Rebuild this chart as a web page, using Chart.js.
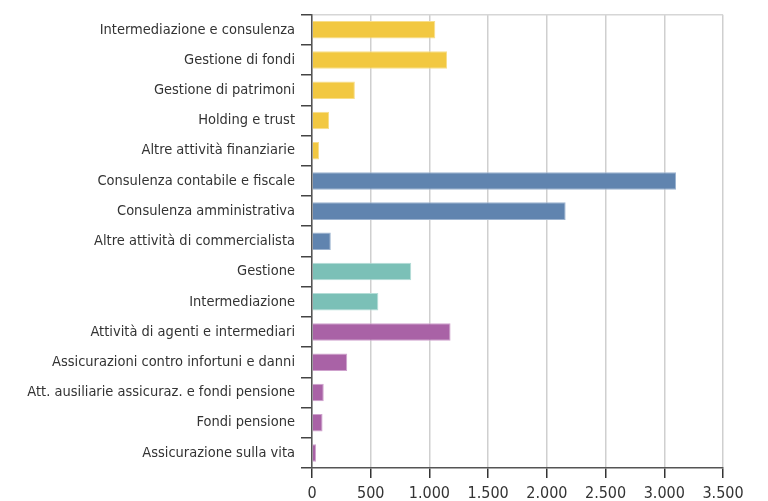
<!DOCTYPE html>
<html>
<head>
<meta charset="utf-8">
<script src="https://cdn.jsdelivr.net/npm/chart.js@4"></script>
<style>
  html, body { margin: 0; padding: 0; background: #fff; }
  #wrap { width: 768px; height: 501px; }
</style>
</head>
<body>
<div id="wrap"><canvas id="c" width="768" height="501"></canvas></div>
<script>
const categories = [
  "Intermediazione e consulenza",
  "Gestione di fondi",
  "Gestione di patrimoni",
  "Holding e trust",
  "Altre attività finanziarie",
  "Consulenza contabile e fiscale",
  "Consulenza amministrativa",
  "Altre attività di commercialista",
  "Gestione",
  "Intermediazione",
  "Attività di agenti e intermediari",
  "Assicurazioni contro infortuni e danni",
  "Att. ausiliarie assicuraz. e fondi pensione",
  "Fondi pensione",
  "Assicurazione sulla vita"
];
const values = [1050, 1150, 365, 145, 60, 3100, 2160, 160, 845, 565, 1180, 300, 100, 90, 35];
const groups = ["fin","fin","fin","fin","fin","comm","comm","comm","risp","risp","ass","ass","ass","ass","ass"];
const xTicks = [0, 500, 1000, 1500, 2000, 2500, 3000, 3500];

const groupFill = { fin: "#F2C841", comm: "#6084AF", risp: "#7BC0B7", ass: "#A962A6" };
const groupEdge = { fin: "#F8DE8A", comm: "#9DB4D0", risp: "#B4DDD7", ass: "#CFA2CD" };

const FONT = "'Liberation Sans Narrow', 'DejaVu Sans Condensed', 'Arial Narrow', sans-serif";

function fmt(v) {
  return String(v).replace(/\B(?=(\d{3})+(?!\d))/g, ".");
}

new Chart(document.getElementById("c"), {
  type: "bar",
  data: {
    labels: categories,
    datasets: [{
      data: values,
      backgroundColor: groups.map(g => groupFill[g]),
      borderColor: groups.map(g => groupEdge[g]),
      borderWidth: 1,
      barPercentage: 0.58,
      categoryPercentage: 1.0
    }]
  },
  options: {
    indexAxis: "y",
    responsive: false,
    animation: false,
    devicePixelRatio: 1,
    layout: { padding: { left: 0, right: 45, top: 12, bottom: 0 } },
    plugins: { legend: { display: false }, tooltip: { enabled: false } },
    scales: {
      x: {
        type: "linear",
        min: 0,
        max: 3500,
        afterBuildTicks: s => { s.ticks = xTicks.map(v => ({ value: v })); },
        afterFit: s => { s.height = 33; },
        ticks: {
          callback: v => fmt(v),
          color: "#333",
          font: { family: FONT, size: 16 },
          padding: 6,
          maxRotation: 0
        },
        grid: {
          color: "#cfcfcf",
          lineWidth: 1.5,
          tickColor: "#333",
          tickLength: 10,
          drawTicks: true
        },
        border: { display: true, color: "#555", width: 1.5 }
      },
      y: {
        afterFit: s => { s.width = 312; },
        ticks: {
          color: "#333",
          font: { family: FONT, size: 14.5 },
          padding: 6,
          autoSkip: false
        },
        grid: {
          offset: true,
          color: ctx => ctx.index === 0 ? "#d6d6d6" : "rgba(0,0,0,0)",
          lineWidth: 1.5,
          tickColor: "#444",
          tickLength: 11,
          drawTicks: true
        },
        border: { display: true, color: "#555", width: 1.5 }
      }
    }
  }
});
</script>
</body>
</html>
